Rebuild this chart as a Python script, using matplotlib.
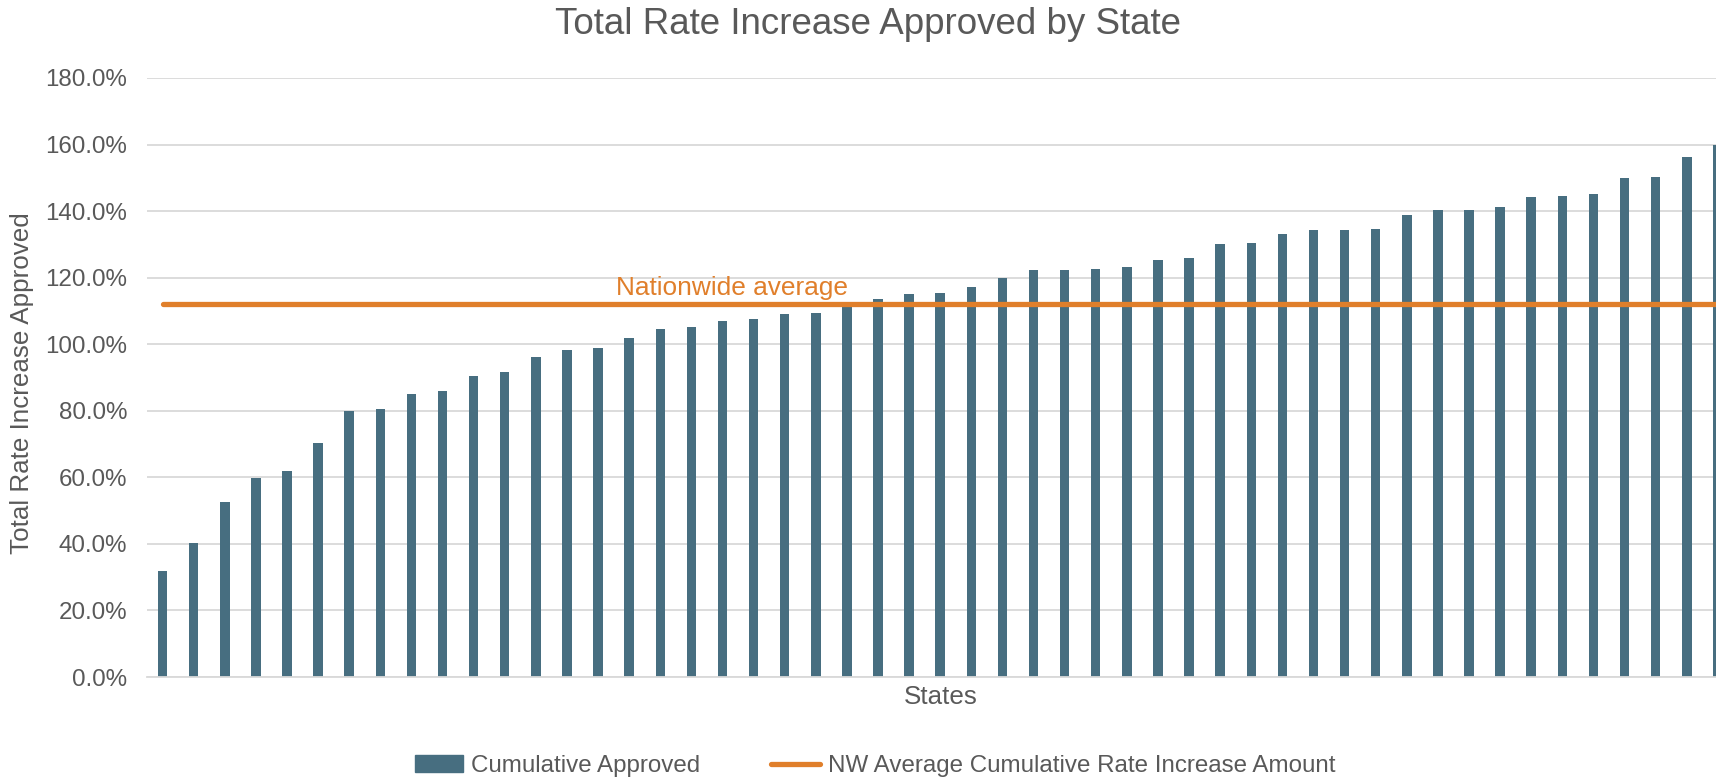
import numpy as np
import matplotlib
matplotlib.use("Agg")
import matplotlib.pyplot as plt
from matplotlib import font_manager
from matplotlib.ticker import PercentFormatter
from matplotlib.patches import Patch
from matplotlib.lines import Line2D

# cumulative approved rate increase per state (%), sorted ascending
approved = [31.9, 40.3, 52.7, 59.8, 62.0, 70.4, 79.9, 80.6, 85.1, 85.8,
            90.6, 91.7, 96.2, 98.4, 98.8, 102.0, 104.6, 105.3, 107.1, 107.6,
            109.2, 109.4, 111.8, 113.7, 115.1, 115.4, 117.1, 120.0, 122.3, 122.4,
            122.7, 123.3, 125.2, 125.8, 130.0, 130.5, 133.1, 134.4, 134.4, 134.7,
            138.8, 140.2, 140.3, 141.2, 144.2, 144.6, 145.2, 150.1, 150.3, 156.3,
            160.0]
nw_average = 112.0
y_ticks = [0, 20, 40, 60, 80, 100, 120, 140, 160, 180]

bar_color = "#476E80"
line_color = "#E07F2B"
text_color = "#595959"
grid_color = "#D9D9D9"

plt.rcParams["font.family"] = ["Liberation Sans", "DejaVu Sans"]

# legend and the annotation use a narrow face in the original
installed = {f.name for f in font_manager.fontManager.ttflist}
narrow_font = None
for name in ["Liberation Sans Narrow", "Arial Narrow"]:
    if name in installed:
        narrow_font = name
        break
if narrow_font:
    narrow = [narrow_font, "DejaVu Sans"]
    k = 1 / 0.82
else:
    narrow = ["Liberation Sans", "DejaVu Sans"]
    k = 1.0

W, H = 1716, 778
fig = plt.figure(figsize=(W / 100, H / 100), dpi=100)
ax = fig.add_axes([147 / W, 101 / H, (W - 147) / W, 599 / H])

x = np.arange(len(approved))
ax.bar(x, approved, width=0.305, color=bar_color, zorder=2)
ax.plot([x[0], x[-1]], [nw_average, nw_average], color=line_color,
        linewidth=3.8, solid_capstyle="round", zorder=3)

ax.set_xlim(-0.5, len(approved) - 1.06)
ax.set_ylim(0, 180)
ax.set_yticks(y_ticks)
ax.yaxis.set_major_formatter(PercentFormatter(decimals=1))
ax.set_xticks([])
ax.tick_params(axis="y", length=0, pad=14.4, labelsize=17.4, labelcolor=text_color)
ax.grid(axis="y", color=grid_color, linewidth=1.3, zorder=0)
for side in ["top", "right", "left"]:
    ax.spines[side].set_visible(False)
ax.spines["bottom"].set_color(grid_color)
ax.spines["bottom"].set_linewidth(1.3)

ax.text(731.5 / W, 1 - 295 / H, "Nationwide average", color=line_color,
        fontsize=18.9 * k, family=narrow, ha="center", va="baseline",
        transform=fig.transFigure)

fig.text(868 / W, 1 - 25 / H, "Total Rate Increase Approved by State",
         ha="center", va="center", fontsize=26.5, color=text_color)
fig.text(22 / W, 1 - 383 / H, "Total Rate Increase Approved", rotation=90,
         ha="center", va="center", fontsize=18.7, color=text_color)
fig.text(941 / W, 1 - 697 / H, "States", ha="center", va="center",
         fontsize=18.7, color=text_color)

handles = [Patch(color=bar_color, label="Cumulative Approved"),
           Line2D([0], [0], color=line_color, linewidth=3.8,
                  solid_capstyle="round",
                  label="NW Average Cumulative Rate Increase Amount")]
leg = fig.legend(handles=handles, loc="center", ncol=2, frameon=False,
                 bbox_to_anchor=(875 / W, 1 - 766 / H),
                 prop={"family": narrow, "size": 17.4 * k},
                 handlelength=2.0 / k, handletextpad=0.33 / k,
                 columnspacing=2.93 / k)
for t in leg.get_texts():
    t.set_color(text_color)

fig.savefig("out.png", dpi=100)
